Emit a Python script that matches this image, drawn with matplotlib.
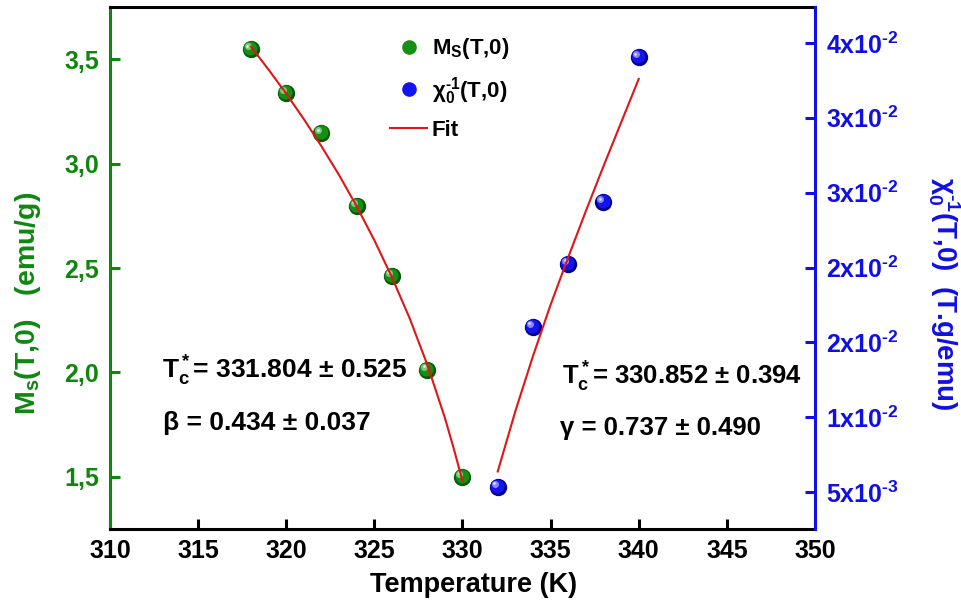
import matplotlib
matplotlib.use("Agg")
import matplotlib.pyplot as plt
from matplotlib.lines import Line2D
from matplotlib import transforms

# donnees
temp_ms = [318, 320, 322, 324, 326, 328, 330]
ms_vals = [3.548, 3.337, 3.146, 2.797, 2.462, 2.012, 1.500]

temp_chi = [332, 334, 336, 338, 340]
chi_vals = [0.0054, 0.0179, 0.0228, 0.0276, 0.0389]

# courbes d'ajustement (lues le long de la ligne rouge)
fit_ms_t = [318, 319, 320, 321, 322, 323, 324, 325, 326, 327, 328, 329, 329.5, 330]
fit_ms_v = [3.56, 3.450, 3.335, 3.213, 3.083, 2.945, 2.795, 2.633, 2.455, 2.260,
            2.038, 1.783, 1.637, 1.48]

fit_chi_t = [332, 333, 334, 335, 336, 337, 338, 339, 340]
fit_chi_v = [0.0066, 0.0113, 0.0156, 0.0196, 0.0233, 0.0269, 0.0304, 0.0338, 0.0372]

x_ticks = [310, 315, 320, 325, 330, 335, 340, 345, 350]
ms_ticks = [1.5, 2.0, 2.5, 3.0, 3.5]
ms_tick_labels = ["1,5", "2,0", "2,5", "3,0", "3,5"]
chi_ticks = [0.0050, 0.01083, 0.01667, 0.0225, 0.02833, 0.03417, 0.0400]
chi_tick_labels = [r"5x10$^{\text{-3}}$", r"1x10$^{\text{-2}}$", r"2x10$^{\text{-2}}$",
                   r"2x10$^{\text{-2}}$", r"3x10$^{\text{-2}}$", r"3x10$^{\text{-2}}$",
                   r"4x10$^{\text{-2}}$"]

plt.rcParams['font.family'] = ['Liberation Sans', 'DejaVu Sans']
plt.rcParams['font.weight'] = 'bold'
plt.rcParams['axes.labelweight'] = 'bold'
plt.rcParams['mathtext.fontset'] = 'custom'
plt.rcParams['mathtext.rm'] = 'Liberation Sans:bold'
plt.rcParams['mathtext.it'] = 'Liberation Sans:bold:italic'
plt.rcParams['mathtext.bf'] = 'Liberation Sans:bold'
plt.rcParams['mathtext.sf'] = 'Liberation Sans:bold'
plt.rcParams['mathtext.default'] = 'rm'

GREEN = '#0f870f'
BLUE = '#1010e6'
RED = '#e01515'

fig = plt.figure(figsize=(9.62, 6.13), dpi=100)
ax = fig.add_axes([0.1143, 0.137, 0.7329, 0.8516])
ax2 = ax.twinx()


def spheres(axis, x, y, base, dark, light, ms=12.5):
    # petite boule ombree : bord sombre, corps, reflet
    axis.plot(x, y, 'o', ls='none', color=dark, markersize=ms, mew=0, zorder=3)
    t1 = transforms.offset_copy(axis.transData, fig=fig, x=-0.8, y=0.8, units='dots')
    axis.plot(x, y, 'o', ls='none', color=base, markersize=ms * 0.8, mew=0,
              transform=t1, zorder=3)
    t2 = transforms.offset_copy(axis.transData, fig=fig, x=-3, y=3, units='dots')
    axis.plot(x, y, 'o', ls='none', color=light, markersize=ms * 0.4, mew=0,
              alpha=0.75, transform=t2, zorder=3)
    t3 = transforms.offset_copy(axis.transData, fig=fig, x=-3.5, y=3.5, units='dots')
    axis.plot(x, y, 'o', ls='none', color='white', markersize=ms * 0.15, mew=0,
              alpha=0.8, transform=t3, zorder=3)


spheres(ax, temp_ms, ms_vals, '#168f16', '#0a5a0a', '#a0dca0')
ax.plot(fit_ms_t, fit_ms_v, color=RED, lw=1.5, zorder=4)

spheres(ax2, temp_chi, chi_vals, '#1414f0', '#00008a', '#b0b0ff')
ax2.plot(fit_chi_t, fit_chi_v, color=RED, lw=1.5, zorder=4)

ax.set_xlim(310, 350)
ax.set_ylim(1.25, 3.75)
ax2.set_ylim(0.002116, 0.042806)

ax.set_xticks(x_ticks)
ax.set_yticks(ms_ticks, ms_tick_labels)
ax2.set_yticks(chi_ticks, chi_tick_labels)

for a in (ax, ax2):
    for s in a.spines.values():
        s.set_linewidth(2.2)
ax.spines['right'].set_visible(False)
ax2.spines['left'].set_visible(False)
ax2.spines['top'].set_visible(False)
ax2.spines['bottom'].set_visible(False)
ax.spines['left'].set_color(GREEN)
ax2.spines['right'].set_color(BLUE)
ax.spines['top'].set_color('black')
ax.spines['bottom'].set_color('black')

ax.tick_params(axis='x', direction='in', length=7, width=2.2, labelsize=18, pad=7,
               colors='black', top=False)
ax.tick_params(axis='y', direction='in', length=7, width=2.2, labelsize=18, pad=8,
               colors=GREEN, right=False)
ax2.tick_params(axis='y', direction='in', length=7, width=2.2, labelsize=18, pad=8,
                colors=BLUE, left=False)

ax.set_xlabel("Temperature (K)", fontsize=19.5, fontweight='bold')
ax.xaxis.set_label_coords(0.516, -0.082)
ax.set_ylabel(r"M$_\mathrm{s}$(T,0)   (emu/g)", fontsize=20.5, fontweight='bold',
              color=GREEN, va='center', ha='center')
ax.yaxis.set_label_coords(-0.116, 0.433)
ax2.set_ylabel(r"$\chi_0^{\text{-1}}$(T,0)  (T.g/emu)", fontsize=20, fontweight='bold',
               color=BLUE, rotation=270, va='center', ha='center')
ax2.yaxis.set_label_coords(1.183, 0.450)

ax.text(0.0738, 0.289, r"T$_\mathrm{c}^*$= 331.804 ± 0.525", transform=ax.transAxes,
        fontsize=19, va='baseline', ha='left')
ax.text(0.0752, 0.190, "β = 0.434 ± 0.037", transform=ax.transAxes,
        fontsize=19, va='baseline', ha='left')
ax.text(0.641, 0.276, r"T$_\mathrm{c}^*$= 330.852 ± 0.394", transform=ax.transAxes,
        fontsize=18.5, va='baseline', ha='left')
ax.text(0.638, 0.180, "γ = 0.737 ± 0.490", transform=ax.transAxes,
        fontsize=18.5, va='baseline', ha='left')

handles = [
    Line2D([], [], marker='o', ls='none', color='#168f16', markersize=9.5),
    Line2D([], [], marker='o', ls='none', color='#1414f0', markersize=9.5),
    Line2D([], [], color=RED, lw=1.5),
]
labels = [r"M$_\mathrm{S}$(T,0)", r"$\chi_0^{\text{-1}}$(T,0)", "Fit"]
ax2.legend(handles, labels, loc='upper left', bbox_to_anchor=(0.381, 0.965),
           frameon=False, fontsize=16, borderpad=0, handlelength=1.7,
           handletextpad=0.2, labelspacing=0.6)

fig.savefig("out.png", dpi=100)
